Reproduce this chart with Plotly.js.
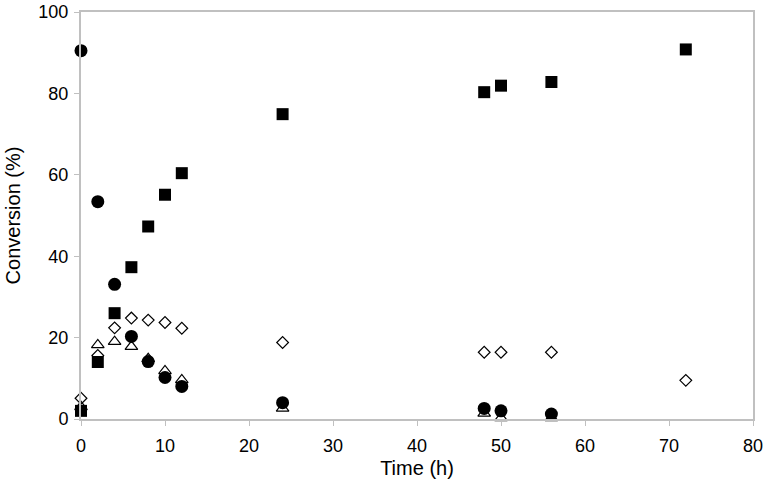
<!DOCTYPE html>
<html>
<head>
<meta charset="utf-8">
<script src="https://cdn.plot.ly/plotly-3.0.1.min.js"></script>
<style>html,body{margin:0;padding:0;background:#fff;}#chart{width:768px;height:494px;}</style>
</head>
<body>
<div id="chart"></div>
<script>
const xTicks = [0, 10, 20, 30, 40, 50, 60, 70, 80];
const yTicks = [0, 20, 40, 60, 80, 100];

const squareX = [0, 2, 4, 6, 8, 10, 12, 24, 48, 50, 56, 72];
const squareY = [2.0, 14.0, 26.0, 37.3, 47.3, 55.1, 60.4, 74.9, 80.3, 81.9, 82.8, 90.8];

const diamondX = [0, 2, 4, 6, 8, 10, 12, 24, 48, 50, 56, 72];
const diamondY = [5.1, 15.6, 22.4, 24.8, 24.3, 23.7, 22.3, 18.8, 16.4, 16.4, 16.4, 9.5];

const triangleX = [0, 2, 4, 6, 8, 10, 12, 24, 48, 50, 56];
const triangleY = [3.0, 18.2, 19.0, 17.8, 14.8, 11.8, 9.6, 2.6, 1.4, 0.3, 0.3];

const circleX = [0, 2, 4, 6, 8, 10, 12, 24, 48, 50, 56];
const circleY = [90.5, 53.4, 33.1, 20.3, 14.1, 10.2, 8.0, 4.0, 2.6, 2.0, 1.2];

const traces = [
  {x: squareX, y: squareY, mode: 'markers', type: 'scatter', cliponaxis: false,
   marker: {symbol: 'square', size: 12, color: '#000', line: {width: 0}}},
  {x: diamondX, y: diamondY, mode: 'markers', type: 'scatter', cliponaxis: false,
   marker: {symbol: 'diamond-open', size: 9, color: '#000', line: {width: 1.2}}},
  {x: triangleX, y: triangleY, mode: 'markers', type: 'scatter', cliponaxis: false,
   marker: {symbol: 'triangle-up-open', size: 11, color: '#000', line: {width: 1.2}}},
  {x: circleX, y: circleY, mode: 'markers', type: 'scatter', cliponaxis: false,
   marker: {symbol: 'circle', size: 13, color: '#000', line: {width: 0}}}
];

const FONT = 'Arial, "Liberation Sans", sans-serif';

const axisCommon = {
  showgrid: false, zeroline: false, showline: true, linecolor: '#c0c0c0', linewidth: 2,
  mirror: true, ticks: 'outside', ticklen: 5, tickcolor: '#c0c0c0', tickwidth: 1,
  tickfont: {family: FONT, size: 18, color: '#000'}
};

const layout = {
  width: 768, height: 494,
  margin: {l: 81, r: 15, t: 12, b: 75},
  paper_bgcolor: '#fff', plot_bgcolor: '#fff',
  showlegend: false,
  font: {family: FONT, color: '#000'},
  xaxis: Object.assign({}, axisCommon, {
    range: [0, 80], tickvals: xTicks, ticktext: xTicks.map(String),
    ticklabelstandoff: 4,
    title: {text: 'Time (h)', font: {family: FONT, size: 20, color: '#000'}, standoff: 6}
  }),
  yaxis: Object.assign({}, axisCommon, {
    range: [0, 100], tickvals: yTicks, ticktext: yTicks.map(String),
    ticklabelstandoff: 2,
    title: {text: 'Conversion (%)', font: {family: FONT, size: 20, color: '#000'}, standoff: 12}
  })
};

Plotly.newPlot('chart', traces, layout, {displayModeBar: false, staticPlot: true});
</script>
</body>
</html>
